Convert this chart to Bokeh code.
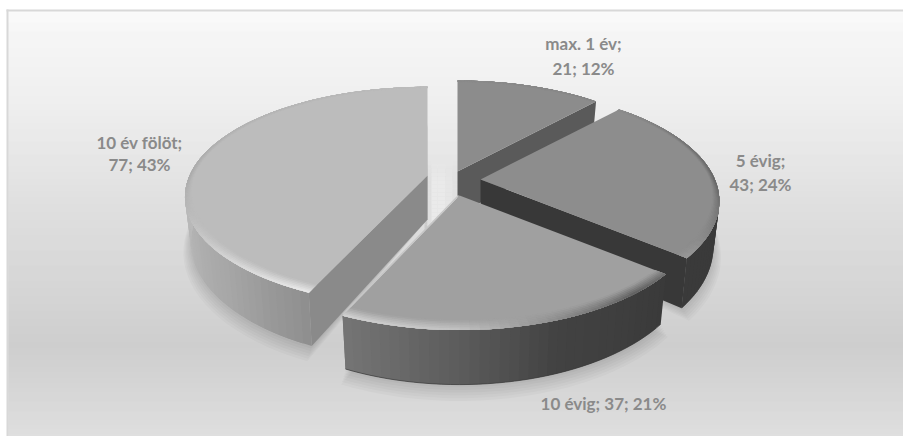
import math
from bokeh.core.properties import value
from bokeh.embed import file_html
from bokeh.models import ColumnDataSource, Range1d
from bokeh.plotting import figure
from bokeh.resources import INLINE

# Chart data
categories = ["max. 1 év", "5 évig", "10 évig", "10 év fölöt"]
counts = [21, 43, 37, 77]
percents = [12, 24, 21, 43]

# Exploded slice placement on the page
apex_x = [457, 480, 459, 427]
apex_y = [171, 179, 195, 175]
scale_x = [0.985, 0.985, 0.985, 1.0]
scale_y = [1.0, 1.0, 1.0, 0.975]

# Per-slice shading: top face, cut face, rim stops and wall stops (degrees clockwise from 12 o'clock)
top_grey = [140, 141, 160, 188]
cut_grey = [90, 56, None, 138]
rim_stops = [
    [(0, 138), (45, 134)],
    [(42, 141), (70, 112), (90, 100), (110, 122), (130, 155)],
    [(129, 110), (140, 92), (160, 140), (180, 196), (205, 212)],
    [(204, 236), (225, 216), (250, 186), (270, 170), (300, 178), (360, 188)],
]
wall_stops = [
    [(0, 90), (45, 90)],
    [(42, 56), (90, 58), (130, 58)],
    [(129, 58), (160, 66), (180, 92), (205, 118)],
    [(204, 142), (225, 165), (255, 184), (285, 186), (360, 186)],
]

# Projection of the tilted disc
RX, RY, PERSP, DEPTH, TAPER = 238.0, 108.6, 0.193, 44.0, 0.025
W, H = 903, 436


def project(i, deg, r=1.0, z=0.0):
    t = math.radians(deg)
    sx, sz = r * math.sin(t), -r * math.cos(t)
    s = 1.0 / (1.0 - PERSP * sz)
    return (apex_x[i] + RX * scale_x[i] * sx * s * (1 - TAPER * z),
            apex_y[i] + RY * scale_y[i] * sz * s + DEPTH * z * s)


def grey(v):
    v = int(round(max(0, min(255, v))))
    return f"#{v:02x}{v:02x}{v:02x}"


def stop_value(stops, deg):
    if deg <= stops[0][0]:
        return stops[0][1]
    for (a, va), (b, vb) in zip(stops, stops[1:]):
        if deg <= b:
            return va + (vb - va) * (deg - a) / (b - a)
    return stops[-1][1]


def rim_width(deg):
    return 0.02 + 0.04 * max(0.0, -math.cos(math.radians(deg)))


p = figure(width=W, height=H, x_range=Range1d(0, W), y_range=Range1d(H, 0),
           x_axis_type=None, y_axis_type=None, toolbar_location=None,
           output_backend="svg", min_border=0, outline_line_color=None,
           background_fill_color="white", border_fill_color="white")
p.grid.visible = False

# Panel background: vertical gradient inside a thin frame
bg_stops = [(10, 250), (33, 245), (100, 238), (200, 222), (345, 203), (375, 208), (436, 221)]
rows = list(range(11, H))
p.quad(left=8, right=W, top=rows, bottom=[r + 1 for r in rows],
       fill_color=[grey(stop_value(bg_stops, r)) for r in rows],
       line_color=[grey(stop_value(bg_stops, r)) for r in rows], line_width=0.5)
p.quad(left=[6, 6], right=[W, 8], top=[9, 9], bottom=[11, H], fill_color="#d8d8d8", line_color=None)

# Light falling through the gap between the exploded slices
glow = [(424, 190), (427, 214), (431, 232), (437, 236), (445, 232), (452, 228), (458, 222)]
gx0, gy0, gx1, gy1, gc, ga = [], [], [], [], [], []
for (xa, va), (xb, vb) in zip(glow, glow[1:]):
    for y in range(156, 232, 4):
        gx0.append(xa); gx1.append(xb); gy0.append(y); gy1.append(y + 4)
        gc.append(grey((va + vb) / 2)); ga.append(min(1.0, max(0.0, (y - 156) / 24)))
p.quad(left=gx0, right=gx1, top=gy0, bottom=gy1, fill_color=gc, fill_alpha=ga, line_color=None)


def arc_angles(i):
    start = 360 * sum(counts[:i]) / sum(counts)
    return start, start + 360 * counts[i] / sum(counts)


# Soft contact shadow beneath each slice
for i in [3, 1, 2]:
    a0, a1 = arc_angles(i)
    n = 50
    for k in range(1, 7):
        r = 1.0 + 0.006 * k
        pts = [project(i, 0, 0, 1)] + [project(i, a0 + (a1 - a0) * j / n, r, 1 + 0.03 * k) for j in range(n + 1)]
        p.patch([q[0] for q in pts], [q[1] for q in pts], fill_color="#000000", fill_alpha=0.022, line_color=None)


def draw_slice(i):
    a0, a1 = arc_angles(i)
    xs, ys, cols = [], [], []

    def add(pts, v):
        xs.append([q[0] for q in pts])
        ys.append([q[1] for q in pts])
        cols.append(grey(v))

    # flat cut faces that look towards the viewer
    if cut_grey[i] is not None:
        edge = a1 if i in (0, 1) else a0
        add([project(i, 0, 0, 0), project(i, edge, 1, 0), project(i, edge, 1, 1), project(i, 0, 0, 1)], cut_grey[i])

    # curved outer wall; each band runs on under the next one so no seams show
    step = 2.0
    n = max(1, int((a1 - a0) / step))
    da = (a1 - a0) / n
    for j in range(n):
        d0 = a0 + da * j
        d1 = a0 + da * (j + 1)
        d2 = min(a1, d1 + da)
        if 75 < d1 and d0 < 290:
            add([project(i, d0, 1, 0), project(i, d2, 1, 0), project(i, d2, 1, 1), project(i, d0, 1, 1)],
                stop_value(wall_stops[i], (d0 + d1) / 2))

    # top face
    arc = [project(i, a0 + (a1 - a0) * j / 60, 1, 0) for j in range(61)]
    add([project(i, 0, 0, 0)] + arc, top_grey[i])

    # rounded rim: rings that blend from the top face into the rim shade
    rings = 6
    for k in range(rings):
        f = (k + 0.5) / rings
        for j in range(n):
            d0 = a0 + da * j
            d1 = a0 + da * (j + 1)
            d2 = min(a1, d1 + da)
            r00 = 1 - rim_width(d0) * (1 - k / rings)
            r20 = 1 - rim_width(d2) * (1 - k / rings)
            v = top_grey[i] + (stop_value(rim_stops[i], (d0 + d1) / 2) - top_grey[i]) * f
            add([project(i, d0, r00), project(i, d2, r20), project(i, d2, 1), project(i, d0, 1)], v)

    p.patches("x", "y", source=ColumnDataSource(dict(x=xs, y=ys, c=cols)),
              fill_color="c", line_color=None)


for i in [0, 3, 1, 2]:
    draw_slice(i)

# Highlight along the left cut edge of the third slice
a0, a1 = arc_angles(2)
e0, e1 = project(2, a1, 0.99), project(2, 0, 0)
p.line([e0[0] - 1, e1[0] - 1], [e0[1], e1[1]], line_color="#c6c6c6", line_width=1.5)

# Dark foot of the front slice's wall
foot = [project(2, a0 + (a1 - a0) * j / 40, 1, 1) for j in range(41)]
p.line([q[0] for q in foot], [q[1] for q in foot], line_color="#3a3a3a", line_width=1, line_alpha=0.7)

# Data labels
label_font = value("Lato")
label_spots = [(583, [43, 68]), (760, [160, 184]), (603, [403]), (139, [142, 164])]
tx, ty, tt = [], [], []
for cat, n, pct, (cx, lines) in zip(categories, counts, percents, label_spots):
    parts = [f"{cat}; {n}; {pct}%"] if len(lines) == 1 else [f"{cat};", f"{n}; {pct}%"]
    for txt, y in zip(parts, lines):
        tx.append(cx); ty.append(y); tt.append(txt)
p.text(tx, ty, text=tt, text_font=label_font, text_font_size="17px", text_font_style="bold",
       text_color="#8a8a8a", text_align="center", text_baseline="middle")

open("out.html", "w").write(file_html(p, INLINE))
